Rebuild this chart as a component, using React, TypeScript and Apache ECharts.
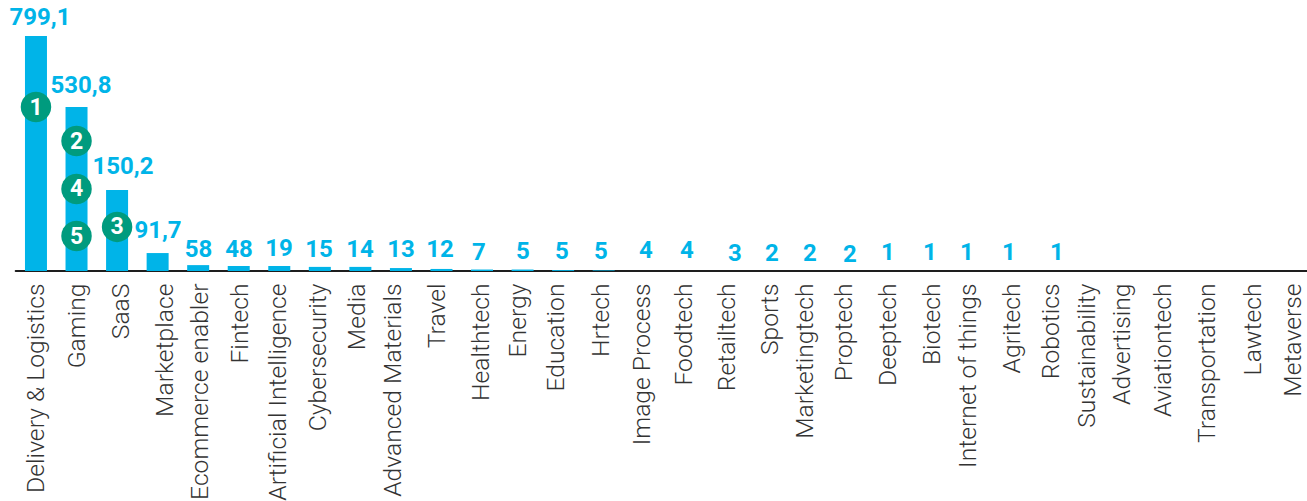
import React, { useEffect, useRef } from "react";
import * as echarts from "echarts";

const categories = ["Delivery & Logistics","Gaming","SaaS","Marketplace","Ecommerce enabler","Fintech","Artificial Intelligence","Cybersecurity","Media","Advanced Materials","Travel","Healthtech","Energy","Education","Hrtech","Image Process","Foodtech","Retailtech","Sports","Marketingtech","Proptech","Deeptech","Biotech","Internet of things","Agritech","Robotics","Sustainability","Advertising","Aviationtech","Transportation","Lawtech","Metaverse"];
// Printed figures
const valueLabels = ["799,1","530,8","150,2","91,7","58","48","19","15","14","13","12","7","5","5","5","4","4","3","2","2","2","1","1","1","1","1"];
// Bar lengths as drawn in the picture (they are not proportional to the printed figures)
const barValues = [799.1,558,275,61,20,17,17,14,14,10,7,5,5,3,2,0,0,0,0,0,0,0,0,0,0,0,0,0,0,0,0,0];
// Badges
const badgeNumbers = ["1","2","4","5","3"];
const badgeCategories = [0,1,1,1,2];
const badgeValues = [557.6,442,279,119,150];

// Layout tables
const AXIS_MAX = 921.4;
const GRID_LEFT = 15.7, GRID_W = 1297.6, GRID_H = 271;
const STEP = GRID_W / categories.length;
const labelCentersX = [40,81,123,158,198.5,239,279,319,360,401,440,479,523,562,601,646,687,735,772,810,850,888,930,967,1009,1057];
const labelCentersY = [17,85,166,230,249,249,248,249,249,249,249,252,251,251,251,250,250,253,253,253,254,252,252,252,252,252];
const axisLabelCentersX = [35,76,120,164,199,239,277,317,356,392,436,480,517,555,600,641,683,726,769,804,843,887,931,967,1011,1050,1086,1121,1162,1206,1252,1292];

const catCenter = (i: number) => GRID_LEFT + STEP * (i + 0.5);

export default function App() {
  const ref = useRef<HTMLDivElement>(null);
  useEffect(() => {
    const chart = echarts.init(ref.current!, null, { renderer: "svg" });
    chart.setOption({
      animation: false,
      backgroundColor: "#ffffff",
      grid: { left: GRID_LEFT, top: 0, width: GRID_W, height: GRID_H, containLabel: false },
      xAxis: {
        type: "category",
        data: categories,
        axisTick: { show: false },
        axisLine: { lineStyle: { color: "#1e1e1e", width: 2 } },
        axisLabel: { show: false, interval: 0 },
      },
      yAxis: { type: "value", min: 0, max: AXIS_MAX, show: false, splitLine: { show: false } },
      series: [
        {
          type: "bar", data: barValues, barWidth: 22, z: 1, silent: true,
          itemStyle: { color: "#00b4e8" },
        },
        {
          type: "scatter", z: 2, symbolSize: 1, silent: true,
          itemStyle: { color: "transparent", opacity: 1 },
          data: categories.map((c, i) => ({
            value: [i, 0],
            label: {
              show: true, position: "bottom", distance: 0, formatter: c, rotate: 90,
              align: "right", verticalAlign: "middle",
              offset: [-12, axisLabelCentersX[i] - catCenter(i)],
              fontFamily: "Roboto", fontWeight: 300, fontSize: 24.7, color: "#333333", opacity: 1,
            },
          })),
        },
        {
          type: "scatter", z: 2, symbolSize: 1, silent: true,
          itemStyle: { color: "transparent", opacity: 1 },
          data: valueLabels.map((t, i) => ({
            value: [i, (GRID_H - labelCentersY[i]) * AXIS_MAX / GRID_H],
            label: {
              show: true, position: "inside", formatter: t,
              offset: [labelCentersX[i] - catCenter(i), 0],
              fontFamily: "Roboto", fontWeight: 700, fontSize: 24, color: "#00b4e8", opacity: 1,
            },
          })),
        },
        {
          type: "scatter", z: 3, symbolSize: 30.5, silent: true,
          itemStyle: { color: "#009b7e", opacity: 1 },
          data: badgeNumbers.map((n, i) => ({
            value: [badgeCategories[i], badgeValues[i]],
            label: {
              show: true, position: "inside", formatter: n,
              fontFamily: "Roboto", fontWeight: 700, fontSize: 23, color: "#ffffff", opacity: 1,
            },
          })),
        },
      ],
    });
    return () => chart.dispose();
  }, []);
  return (
    <div style={{ position: "fixed", left: 0, top: 0, width: 1307, height: 501, overflow: "hidden", background: "#fff" }}>
      <div ref={ref} style={{ width: 1320, height: 501 }} />
    </div>
  );
}
